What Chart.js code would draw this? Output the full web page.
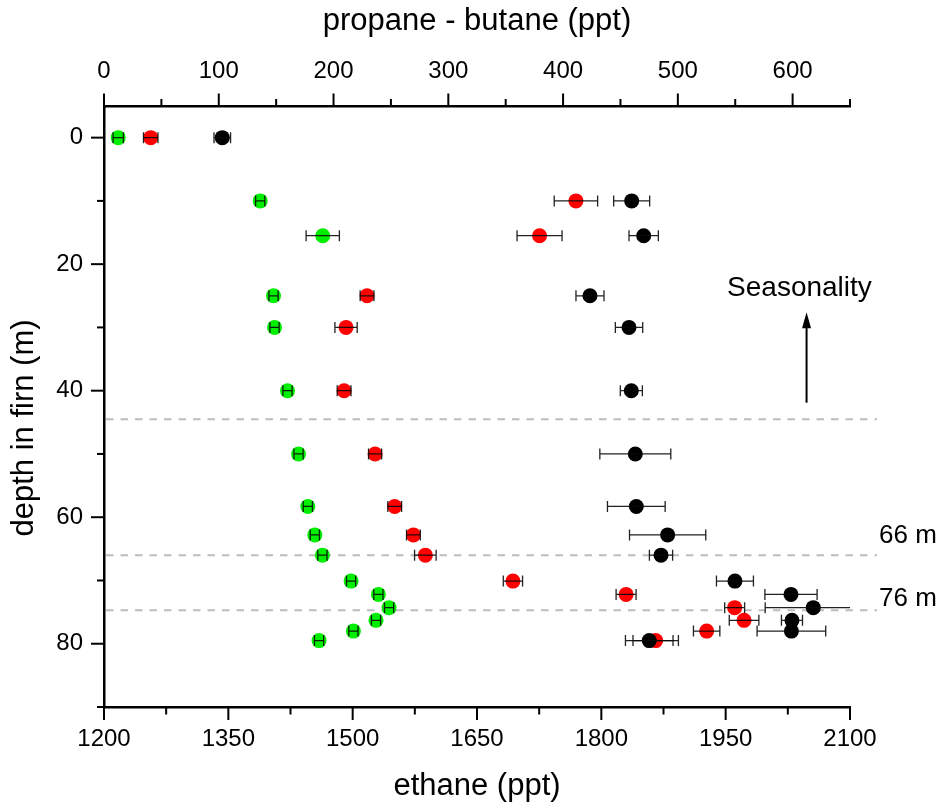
<!DOCTYPE html>
<html>
<head>
<meta charset="utf-8">
<script src="https://cdn.jsdelivr.net/npm/chart.js@4"></script>
<style>
  body { margin: 0; background: #fff; }
  canvas { display: block; }
</style>
</head>
<body>
<canvas id="firnChart" width="941" height="808"></canvas>
<script>
// depth of each firn sample (m)
const depth = [0, 10, 15.5, 25, 30, 40, 50, 58.3, 62.8, 66, 70.1, 72.2, 74.3, 76.3, 78, 79.5];

// ethane (bottom axis), black
const ethane = [1342.7, 1836.6, 1851.1, 1786.3, 1833.4, 1836.2, 1841, 1842.2, 1880, 1872, 1961.2, 2028.8, 2055.7, 2030, 2029.3, 1857.8];
const ethaneErr = [10, 21.7, 17.7, 16.9, 16.5, 13.3, 42.8, 34.8, 46, 14, 22.3, 31.5, 58, 12.7, 41.4, 28.7];

// propane (top axis), red
const propane = [40.7, 411.2, 379.5, 229.2, 210.9, 209.2, 236.2, 253.3, 269.6, 280, 356.3, 454.9, 549.5, 557.7, 525.1, 480.7];
const propaneErr = [6.3, 18.9, 19.6, 6, 9.7, 6, 5.7, 6, 6, 9.4, 8.4, 8.7, 8.7, 12.9, 11.5, 19.8];

// butane (top axis), green
const butane = [12.4, 136.1, 190.6, 147.7, 148.6, 159.9, 169.5, 177.6, 183.7, 190.3, 215.3, 239.1, 248.4, 237, 217.3, 187.4];
const butaneErr = [4.5, 4, 14.5, 4, 4, 4, 4, 4, 4, 4, 4, 4, 4, 4, 4, 4];

// tick labels and minor ticks
const ethaneTicks = [1200, 1350, 1500, 1650, 1800, 1950, 2100];
const ethaneMinor = [1275, 1425, 1575, 1725, 1875, 2025];
const topTicks = [0, 100, 200, 300, 400, 500, 600];
const topMinor = [50, 150, 250, 350, 450, 550, 650];
const depthTicks = [0, 20, 40, 60, 80];
const depthMinor = [10, 30, 50, 70, 90];

// dashed marker depths and annotation labels
const markerDepths = [44.5, 66, 74.7];
const markerLabels = [{ text: "66 m", depth: 64.0 }, { text: "76 m", depth: 74.1 }];

const FONT = "'Liberation Sans', Arial, sans-serif";

const toPoints = (xs) => xs.map((v, i) => ({ x: v, y: depth[i] }));

const decor = {
  id: "decor",
  beforeDatasetsDraw(chart) {
    const { ctx, chartArea, scales } = chart;
    ctx.save();
    ctx.strokeStyle = "#bdbdbd";
    ctx.lineWidth = 2;
    ctx.setLineDash([7.5, 7]);
    markerDepths.forEach(d => {
      const y = scales.y.getPixelForValue(d);
      ctx.beginPath();
      ctx.moveTo(chartArea.left + 2, y);
      ctx.lineTo(chartArea.right + 27, y);
      ctx.stroke();
    });
    ctx.restore();
  },
  afterDatasetsDraw(chart) {
    const { ctx, chartArea, scales } = chart;
    const y = scales.y;

    // error bars
    ctx.save();
    ctx.strokeStyle = "rgba(10,10,10,0.9)";
    ctx.lineWidth = 1.3;
    chart.data.datasets.forEach(ds => {
      const xs = scales[ds.xAxisID];
      ds.data.forEach((p, i) => {
        const e = ds.errors[i];
        const py = y.getPixelForValue(p.y);
        const lo = xs.getPixelForValue(p.x - e);
        const hi = xs.getPixelForValue(p.x + e);
        ctx.beginPath();
        ctx.moveTo(Math.max(lo, chartArea.left), py);
        ctx.lineTo(Math.min(hi, chartArea.right), py);
        [lo, hi].forEach(cx => {
          if (cx >= chartArea.left && cx <= chartArea.right) {
            ctx.moveTo(cx, py - 5.5);
            ctx.lineTo(cx, py + 5.5);
          }
        });
        ctx.stroke();
      });
    });
    ctx.restore();
  },
  afterDraw(chart) {
    const { ctx, chartArea, scales } = chart;
    const { x, x2, y } = scales;

    // outward tick marks
    ctx.save();
    ctx.strokeStyle = "#000";
    ctx.lineWidth = 2;
    const tick = (x0, y0, x1, y1) => { ctx.beginPath(); ctx.moveTo(x0, y0); ctx.lineTo(x1, y1); ctx.stroke(); };
    ethaneTicks.forEach(v => { const px = x.getPixelForValue(v); tick(px, chartArea.bottom, px, chartArea.bottom + 13); });
    ethaneMinor.forEach(v => { const px = x.getPixelForValue(v); tick(px, chartArea.bottom, px, chartArea.bottom + 7.5); });
    topTicks.forEach(v => { const px = x2.getPixelForValue(v); tick(px, chartArea.top, px, chartArea.top - 12.5); });
    topMinor.forEach(v => { const px = x2.getPixelForValue(v); tick(px, chartArea.top, px, chartArea.top - 7); });
    depthTicks.forEach(v => { const py = y.getPixelForValue(v); tick(chartArea.left, py, chartArea.left - 13, py); });
    depthMinor.forEach(v => { const py = y.getPixelForValue(v); tick(chartArea.left, py, chartArea.left - 7, py); });

    // y axis title
    ctx.fillStyle = "#000";
    ctx.font = "31px " + FONT;
    ctx.translate(24, 428);
    ctx.rotate(-Math.PI / 2);
    ctx.textAlign = "center";
    ctx.textBaseline = "middle";
    ctx.fillText("depth in firn (m)", 0, 0);
    ctx.restore();

    // seasonality annotation
    ctx.save();
    ctx.fillStyle = "#000";
    ctx.strokeStyle = "#000";
    ctx.font = "28px " + FONT;
    ctx.textAlign = "center";
    ctx.textBaseline = "alphabetic";
    ctx.fillText("Seasonality", x.getPixelForValue(2039), y.getPixelForValue(25));
    const ax = x.getPixelForValue(2047.6);
    const yBase = y.getPixelForValue(41.9);
    const yTip = y.getPixelForValue(27.6);
    ctx.lineWidth = 2;
    ctx.beginPath();
    ctx.moveTo(ax, yBase);
    ctx.lineTo(ax, yTip + 12);
    ctx.stroke();
    ctx.beginPath();
    ctx.moveTo(ax, yTip);
    ctx.lineTo(ax - 4.5, yTip + 16);
    ctx.lineTo(ax + 4.5, yTip + 16);
    ctx.closePath();
    ctx.fill();

    // depth marker labels
    ctx.font = "26px " + FONT;
    ctx.textAlign = "left";
    markerLabels.forEach(m => {
      ctx.fillText(m.text, chartArea.right + 29, y.getPixelForValue(m.depth));
    });
    ctx.restore();
  }
};

const tickFont = { family: FONT, size: 24 };
const titleFont = { family: FONT, size: 31 };
const border = { display: true, color: "#000", width: 2.5 };
const noGrid = { display: false, drawTicks: false, tickLength: 0 };
const plain = v => String(v);

new Chart(document.getElementById("firnChart"), {
  type: "scatter",
  data: {
    datasets: [
      { label: "ethane", data: toPoints(ethane), errors: ethaneErr, xAxisID: "x", yAxisID: "y",
        backgroundColor: "#000000", order: 0 },
      { label: "propane", data: toPoints(propane), errors: propaneErr, xAxisID: "x2", yAxisID: "y",
        backgroundColor: "#ff0000", order: 1 },
      { label: "butane", data: toPoints(butane), errors: butaneErr, xAxisID: "x2", yAxisID: "y",
        backgroundColor: "#00ee00", order: 2 }
    ]
  },
  options: {
    responsive: false,
    animation: false,
    devicePixelRatio: 1,
    layout: { padding: { left: 0, right: 91, top: 0, bottom: 0 } },
    elements: { point: { radius: 7.5, hoverRadius: 7.5, borderWidth: 0, pointStyle: "circle" } },
    plugins: { legend: { display: false }, tooltip: { enabled: false } },
    scales: {
      x: {
        type: "linear", position: "bottom", min: 1200, max: 2100,
        afterBuildTicks: s => { s.ticks = ethaneTicks.map(v => ({ value: v })); },
        afterFit: s => { s.height = 101; },
        grid: noGrid, border: border,
        ticks: { font: tickFont, color: "#000", padding: 18, maxRotation: 0, autoSkip: false, callback: plain },
        title: { display: true, text: "ethane (ppt)", font: titleFont, color: "#000", padding: { top: 0, bottom: 3.4 } }
      },
      x2: {
        type: "linear", position: "top", min: 0, max: 650,
        afterBuildTicks: s => { s.ticks = topTicks.map(v => ({ value: v })); },
        afterFit: s => { s.height = 106; },
        grid: noGrid, border: border,
        ticks: { font: tickFont, color: "#000", padding: 20, maxRotation: 0, autoSkip: false, callback: plain },
        title: { display: true, text: "propane - butane (ppt)", font: titleFont, color: "#000", padding: { top: 2.5, bottom: 0 } }
      },
      y: {
        type: "linear", position: "left", reverse: true, min: -5, max: 90,
        afterBuildTicks: s => { s.ticks = depthTicks.map(v => ({ value: v })); },
        afterFit: s => { s.width = 104; },
        grid: noGrid, border: border,
        ticks: { font: tickFont, color: "#000", padding: 21, autoSkip: false, callback: plain }
      }
    }
  },
  plugins: [decor]
});
</script>
</body>
</html>
